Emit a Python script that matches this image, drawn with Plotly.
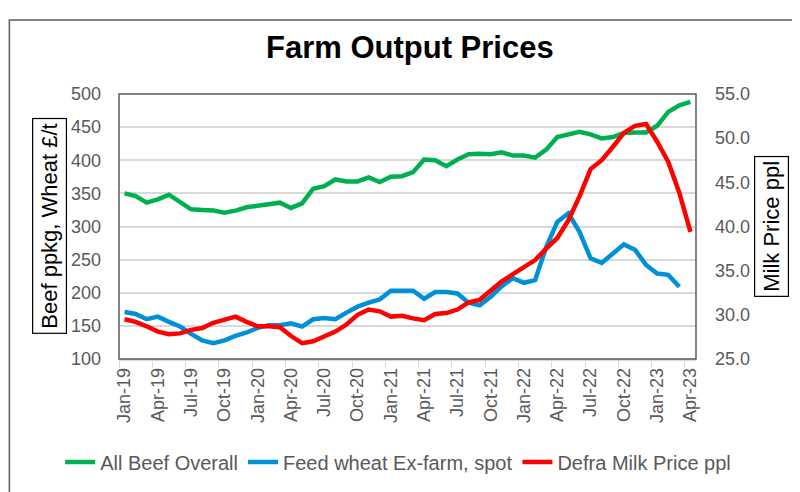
import pandas as pd
import plotly.graph_objects as go

# monthly categories Jan-19 .. Apr-23
months = pd.date_range("2019-01-01", periods=52, freq="MS").strftime("%b-%y").tolist()

# All Beef Overall (p/kg) - left axis
beef = [350, 346, 336, 341, 348, 337, 326, 325, 324, 321, 324, 329,
        331, 334, 336, 328, 335, 357, 361, 371, 368, 368, 374, 367,
        375, 376, 382, 401, 400, 391, 401, 409, 410, 409, 412, 407,
        407, 404, 416, 435, 439, 443, 439, 433, 435, 441, 442, 442,
        452, 473, 483, 488]

# Feed wheat ex-farm spot (GBP/t) - left axis, no Apr-23 value yet
wheat = [171, 168, 160, 164, 156, 149, 138, 128, 124, 128, 135, 140,
         147, 151, 151, 154, 149, 160, 162, 160, 170, 179, 185, 190,
         203, 203, 203, 191, 201, 201, 199, 185, 181, 194, 210, 222,
         215, 219, 269, 307, 320, 292, 252, 245, 259, 273, 265, 242,
         229, 227, 209, None]

# Defra milk price (ppl) - right axis
milk = [29.5, 29.2, 28.7, 28.1, 27.8, 27.9, 28.3, 28.5, 29.1, 29.4, 29.8, 29.2,
        28.7, 28.7, 28.6, 27.6, 26.8, 27.0, 27.6, 28.1, 28.9, 30.0, 30.6, 30.4,
        29.8, 29.9, 29.6, 29.4, 30.1, 30.2, 30.6, 31.4, 31.7, 32.8, 33.8, 34.6,
        35.4, 36.2, 37.5, 38.7, 40.7, 43.4, 46.5, 47.5, 49.0, 50.6, 51.4, 51.6,
        49.6, 47.3, 43.8, 39.4]

GREY = "#595959"
FONT = "Liberation Sans, Arial, sans-serif"

fig = go.Figure()
fig.add_trace(go.Scatter(x=months, y=beef, name="All Beef Overall", mode="lines",
                         line=dict(color="#00B050", width=4.5)))
fig.add_trace(go.Scatter(x=months, y=wheat, name="Feed wheat Ex-farm, spot", mode="lines",
                         line=dict(color="#0090D8", width=4.5)))
fig.add_trace(go.Scatter(x=months, y=milk, name="Defra Milk Price ppl", mode="lines",
                         line=dict(color="#FF0000", width=4.5), yaxis="y2"))

# margins allow for the 8px default body margin of the html page
fig.update_layout(
    width=800, height=492,
    margin=dict(l=111, r=112, t=86, b=141),
    paper_bgcolor="white", plot_bgcolor="white",
    font=dict(family=FONT, color=GREY, size=18),
    showlegend=True,
    legend=dict(orientation="h", x=-0.102, xanchor="left", y=-0.389, yanchor="middle",
                font=dict(size=20, color=GREY, family=FONT), tracegroupgap=0),
    xaxis=dict(type="category", range=[-0.5, 51.5], tickmode="linear", tick0=0, dtick=3,
               tickson="boundaries", tickangle=-90, ticks="outside", ticklen=7,
               tickcolor="#D9D9D9", showline=True, linecolor="#D9D9D9", linewidth=1.5,
               showgrid=False, tickfont=dict(size=18, color=GREY)),
    yaxis=dict(range=[100, 500], tickvals=[100, 150, 200, 250, 300, 350, 400, 450, 500],
               showgrid=True, gridcolor="#D9D9D9", gridwidth=1.5, zeroline=False,
               ticks="", ticklabelstandoff=17, tickfont=dict(size=18, color=GREY)),
    yaxis2=dict(range=[25, 55], overlaying="y", side="right",
                tickvals=[25, 30, 35, 40, 45, 50, 55], tickformat=".1f",
                showgrid=False, zeroline=False, ticks="", ticklabelstandoff=18,
                tickfont=dict(size=18, color=GREY)),
)

# plot area frame and outer chart border
fig.add_shape(type="rect", xref="paper", yref="paper", x0=0, x1=1, y0=0, y1=1,
              line=dict(color="#595959", width=1.5), layer="above")
fig.add_shape(type="rect", xref="paper", yref="paper", x0=-0.19, x1=1.3, y0=-0.6, y1=1.279,
              line=dict(color="#595959", width=1.5))

fig.add_annotation(text="<b>Farm Output Prices</b>", xref="paper", yref="paper",
                   x=0.505, y=1.174, xanchor="center", yanchor="middle", showarrow=False,
                   font=dict(size=31, color="black", family=FONT))
fig.add_annotation(text="Beef ppkg, Wheat £/t", xref="paper", yref="paper",
                   x=-0.1205, y=0.504, xanchor="center", yanchor="middle",
                   showarrow=False, textangle=-90,
                   bordercolor="black", borderwidth=1.2, borderpad=4,
                   font=dict(size=22, color="black", family=FONT))
fig.add_annotation(text="Milk Price ppl", xref="paper", yref="paper",
                   x=1.1317, y=0.502, xanchor="center", yanchor="middle",
                   showarrow=False, textangle=-90,
                   bordercolor="black", borderwidth=1.2, borderpad=4,
                   font=dict(size=22, color="black", family=FONT))

fig.write_html("out.html")
